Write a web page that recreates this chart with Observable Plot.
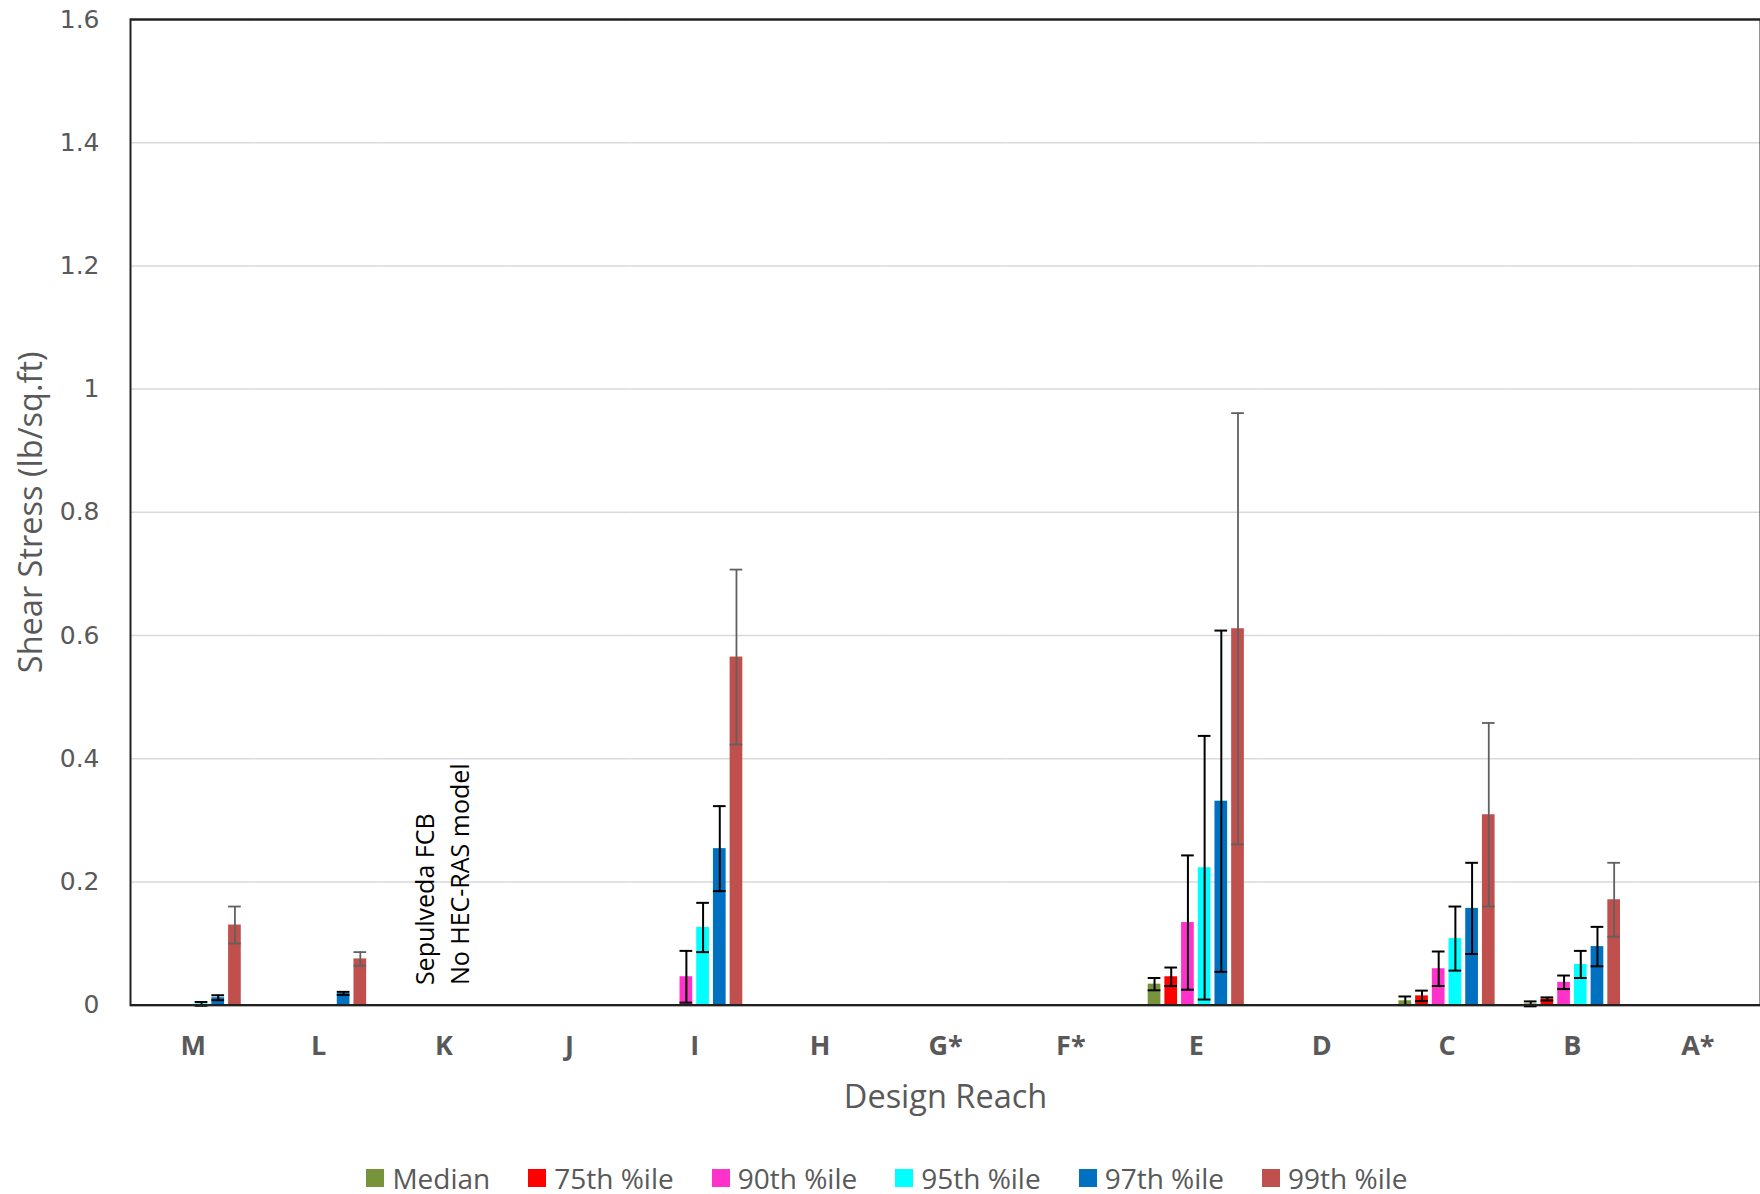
<!DOCTYPE html>
<html>
<head>
<meta charset="utf-8">
<script src="https://cdn.jsdelivr.net/npm/d3@7"></script>
<script src="https://cdn.jsdelivr.net/npm/@observablehq/plot@0.6"></script>
<style>
  html, body { margin: 0; padding: 0; background: #fff; }
  #chart svg { display: block; }
  .legend { display: flex; justify-content: center; gap: 38px; padding-top: 35px; padding-left: 14px;
            font-family: "Open Sans", sans-serif; font-size: 28px; color: #595959; line-height: 36px; }
  .legend .item { display: flex; align-items: center; }
  .legend .sw { width: 18px; height: 18px; margin-right: 8px; }
</style>
</head>
<body>
<div id="chart"></div>
<script>
const categories = ["M", "L", "K", "J", "I", "H", "G*", "F*", "E", "D", "C", "B", "A*"];
const seriesNames = ["Median", "75th %ile", "90th %ile", "95th %ile", "97th %ile", "99th %ile"];
const seriesColors = ["#77933C", "#FF0000", "#FF33CC", "#00FFFF", "#0070C0", "#C0504D"];

// values by category (null = no data)
const median = [null, null, null, null, null, null, null, null, 0.034, null, 0.007, 0.002, null];
const p75    = [null, null, null, null, null, null, null, null, 0.046, null, 0.015, 0.010, null];
const p90    = [null, null, null, null, 0.046, null, null, null, 0.134, null, 0.059, 0.037, null];
const p95    = [0.002, null, null, null, 0.126, null, null, null, 0.223, null, 0.108, 0.066, null];
const p97    = [0.012, 0.019, null, null, 0.254, null, null, null, 0.331, null, 0.157, 0.095, null];
const p99    = [0.130, 0.075, null, null, 0.565, null, null, null, 0.611, null, 0.309, 0.171, null];

// error bar half-widths
const errMedian = [null, null, null, null, null, null, null, null, 0.010, null, 0.007, 0.004, null];
const err75     = [null, null, null, null, null, null, null, null, 0.015, null, 0.0085, 0.0025, null];
const err90     = [null, null, null, null, 0.042, null, null, null, 0.109, null, 0.028, 0.011, null];
const err95     = [0.003, null, null, null, 0.040, null, null, null, 0.214, null, 0.052, 0.022, null];
const err97     = [0.004, 0.0025, null, null, 0.069, null, null, null, 0.277, null, 0.074, 0.032, null];
const err99     = [0.030, 0.011, null, null, 0.142, null, null, null, 0.350, null, 0.149, 0.060, null];

const yTicks = [0, 0.2, 0.4, 0.6, 0.8, 1, 1.2, 1.4, 1.6];
const annotations = [{cat: "K", text: "Sepulveda FCB\nNo HEC-RAS model"}];

const valueSeries = [median, p75, p90, p95, p97, p99];
const errSeries = [errMedian, err75, err90, err95, err97, err99];

const rows = categories.flatMap((c, i) => seriesNames.map((s, j) => ({
  cat: c, series: s, value: valueSeries[j][i], err: errSeries[j][i]
}))).filter(d => d.value != null);
const errRows = rows.filter(d => d.err != null);
const errBlack = errRows.filter(d => d.series !== "99th %ile");
const errGray = errRows.filter(d => d.series === "99th %ile");
const gridTicks = yTicks.filter(t => t > 0 && t < 1.6);
// one set of gridlines per category, so that every facet exists
const gridRows = categories.flatMap(c => gridTicks.map(t => ({cat: c, y: t})));

const W = 1760, H = 1125;
const errMarks = (data, color, sw) => [
  Plot.ruleX(data, {fx: "cat", x: "series", y1: d => d.value - d.err, y2: d => d.value + d.err, stroke: color, strokeWidth: sw}),
  Plot.tickY(data, {fx: "cat", x: "series", y: d => d.value - d.err, stroke: color, strokeWidth: sw}),
  Plot.tickY(data, {fx: "cat", x: "series", y: d => d.value + d.err, stroke: color, strokeWidth: sw})
];

const chart = Plot.plot({
  width: W,
  height: H,
  marginTop: 19,
  marginLeft: 130,
  marginRight: 0,
  marginBottom: H - 1004.6,
  style: {fontFamily: "Open Sans, sans-serif", background: "#fff", overflow: "visible"},
  fx: {domain: categories, padding: 0, round: false},
  x: {domain: seriesNames, paddingInner: 0.24, paddingOuter: 0.875, round: false, axis: null},
  y: {domain: [0, 1.6]},
  color: {domain: seriesNames, range: seriesColors},
  marks: [
    Plot.ruleY(gridRows, {fx: "cat", y: "y", stroke: "#d9d9d9", strokeWidth: 1.5}),
    Plot.barY(rows, {fx: "cat", x: "series", y: "value", fill: "series"}),
    ...errMarks(errBlack, "#000", 2),
    ...errMarks(errGray, "#606060", 1.8),
    Plot.text(annotations, {fx: "cat", frameAnchor: "bottom", dy: -20, dx: -4, text: "text", rotate: -90,
      textAnchor: "start", lineAnchor: "middle", lineHeight: 1.4, fontSize: 25, fill: "#000"}),
    Plot.axisY({ticks: yTicks, tickSize: 0, tickPadding: 31, tickFormat: d => String(d),
      fontSize: 25, fontFamily: "DejaVu Sans, sans-serif", fill: "#595959", label: null}),
    Plot.axisY({ticks: [], label: "Shear Stress (lb/sq.ft)", labelAnchor: "center", labelArrow: "none",
      labelOffset: 112, fontSize: 32.5, fill: "#595959"}),
    Plot.axisFx({anchor: "bottom", tickSize: 0, tickPadding: 31, fontSize: 27, fontWeight: "bold",
      fill: "#595959", label: null}),
    Plot.axisFx({anchor: "bottom", ticks: [], label: "Design Reach", labelAnchor: "center", labelArrow: "none",
      labelOffset: 103, fontSize: 32.5, fill: "#595959"}),
    Plot.ruleY([1.6], {stroke: "#222", strokeWidth: 2}),
    Plot.ruleY([0], {stroke: "#000", strokeWidth: 2.2}),
    Plot.frame({facet: "super", stroke: "#222", strokeWidth: 2})
  ]
});
document.getElementById("chart").appendChild(chart);

const legend = document.createElement("div");
legend.className = "legend";
seriesNames.forEach((s, i) => {
  const item = document.createElement("div");
  item.className = "item";
  const sw = document.createElement("span");
  sw.className = "sw";
  sw.style.background = seriesColors[i];
  const label = document.createElement("span");
  label.textContent = s;
  item.appendChild(sw);
  item.appendChild(label);
  legend.appendChild(item);
});
document.getElementById("chart").appendChild(legend);
</script>
</body>
</html>
